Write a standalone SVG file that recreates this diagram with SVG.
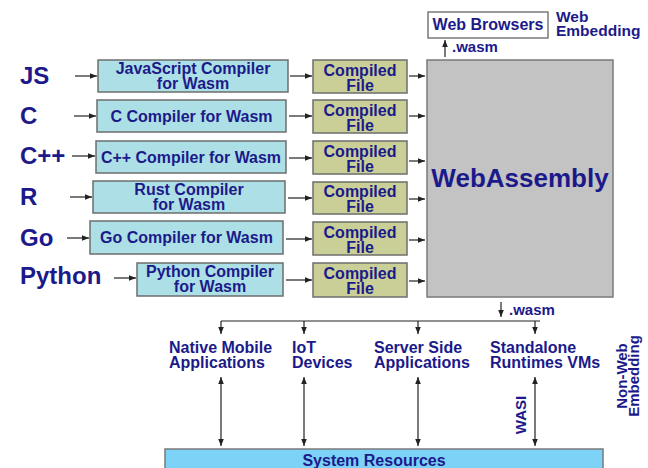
<svg xmlns="http://www.w3.org/2000/svg" width="648" height="468" viewBox="0 0 648 468">
<defs>
<marker id="ah" viewBox="0 0 10 10" refX="10" refY="5" markerWidth="7" markerHeight="7" markerUnits="userSpaceOnUse" orient="auto-start-reverse">
<path d="M0,1 L10,5 L0,9 Z" fill="#222"/>
</marker>
</defs>
<style>
text{font-family:"Liberation Sans",Arial,sans-serif;font-weight:bold;fill:#1c1a8a}
.lang{font-size:24px}
.t16{font-size:16px}
.mid{text-anchor:middle}
.comp{fill:#ace0e6;stroke:#6e6e6e;stroke-width:1.5}
.file{fill:#c9cf96;stroke:#6e6e6e;stroke-width:1.5}
.wa{fill:#c3c3c3;stroke:#7a7a7a;stroke-width:1.5}
.wb{fill:#ffffff;stroke:#7a7a7a;stroke-width:1.5}
.sys{fill:#7dd2f8;stroke:#7a7a7a;stroke-width:1.5}
.c{stroke:#222;stroke-width:1.2;fill:none}
.a{marker-end:url(#ah)}
.d{marker-start:url(#ah);marker-end:url(#ah)}
</style>
<rect width="648" height="468" fill="#ffffff"/>

<g id="lang-js"><text class="lang" x="20" y="84">JS</text></g>
<g id="lang-c"><text class="lang" x="20" y="124">C</text></g>
<g id="lang-cpp"><text class="lang" x="20" y="164">C++</text></g>
<g id="lang-r"><text class="lang" x="20" y="205">R</text></g>
<g id="lang-go"><text class="lang" x="20" y="246">Go</text></g>
<g id="lang-py"><text class="lang" x="20" y="284">Python</text></g>

<g id="comp-js"><rect class="comp" x="98" y="60" width="190" height="32"/><text class="t16 mid" x="193" y="74">JavaScript Compiler</text><text class="t16 mid" x="193" y="89">for Wasm</text></g>
<g id="comp-c"><rect class="comp" x="97" y="100" width="189" height="32"/><text class="t16 mid" x="191.5" y="122">C Compiler for Wasm</text></g>
<g id="comp-cpp"><rect class="comp" x="96" y="141" width="190" height="32"/><text class="t16 mid" x="191" y="163" textLength="180" lengthAdjust="spacingAndGlyphs">C++ Compiler for Wasm</text></g>
<g id="comp-rust"><rect class="comp" x="93" y="181" width="192" height="32"/><text class="t16 mid" x="189" y="195">Rust Compiler</text><text class="t16 mid" x="189" y="210">for Wasm</text></g>
<g id="comp-go"><rect class="comp" x="90" y="221" width="193" height="33"/><text class="t16 mid" x="186.5" y="243">Go Compiler for Wasm</text></g>
<g id="comp-py"><rect class="comp" x="137" y="263" width="146" height="33"/><text class="t16 mid" x="210" y="277">Python Compiler</text><text class="t16 mid" x="210" y="292">for Wasm</text></g>

<g id="file-1"><rect class="file" x="313" y="60" width="94" height="33"/><text class="t16 mid" x="360" y="76">Compiled</text><text class="t16 mid" x="360" y="91">File</text></g>
<g id="file-2"><rect class="file" x="313" y="100" width="94" height="33"/><text class="t16 mid" x="360" y="116">Compiled</text><text class="t16 mid" x="360" y="131">File</text></g>
<g id="file-3"><rect class="file" x="313" y="141" width="94" height="33"/><text class="t16 mid" x="360" y="157">Compiled</text><text class="t16 mid" x="360" y="172">File</text></g>
<g id="file-4"><rect class="file" x="313" y="182" width="94" height="32"/><text class="t16 mid" x="360" y="197">Compiled</text><text class="t16 mid" x="360" y="212">File</text></g>
<g id="file-5"><rect class="file" x="313" y="222" width="94" height="33"/><text class="t16 mid" x="360" y="238">Compiled</text><text class="t16 mid" x="360" y="253">File</text></g>
<g id="file-6"><rect class="file" x="313" y="263" width="94" height="34"/><text class="t16 mid" x="360" y="279">Compiled</text><text class="t16 mid" x="360" y="294">File</text></g>

<g id="webassembly"><rect class="wa" x="427" y="60" width="186" height="237"/><text x="520" y="187" class="mid" font-size="26">WebAssembly</text></g>

<g id="web-browsers"><rect class="wb" x="428" y="12" width="120" height="26"/><text class="t16 mid" x="488" y="30">Web Browsers</text></g>
<g id="web-embedding"><text x="556" y="22" font-size="15.5">Web</text><text x="556" y="36" font-size="15.5">Embedding</text></g>

<g id="app-mobile"><text class="t16" x="169" y="353">Native Mobile</text><text class="t16" x="169" y="368">Applications</text></g>
<g id="app-iot"><text class="t16" x="292" y="353">IoT</text><text class="t16" x="292" y="368">Devices</text></g>
<g id="app-server"><text class="t16" x="374" y="353">Server Side</text><text class="t16" x="374" y="368">Applications</text></g>
<g id="app-standalone"><text class="t16" x="490" y="353">Standalone</text><text class="t16" x="490" y="368">Runtimes VMs</text></g>
<g id="non-web"><text font-size="15" class="mid" transform="translate(627,376) rotate(-90)">Non-Web</text><text font-size="15" class="mid" transform="translate(639,376) rotate(-90)">Embedding</text></g>

<g id="system-resources"><rect class="sys" x="165" y="449" width="438" height="30"/><text class="t16 mid" x="374" y="466">System Resources</text></g>

<g id="connectors">
<line class="c a" x1="75" y1="76" x2="97" y2="76"/>
<line class="c a" x1="74" y1="116" x2="96" y2="116"/>
<line class="c a" x1="72" y1="156" x2="95" y2="156"/>
<line class="c a" x1="70" y1="197" x2="92" y2="197"/>
<line class="c a" x1="67" y1="238" x2="89" y2="238"/>
<line class="c a" x1="114" y1="278" x2="136" y2="278"/>

<line class="c a" x1="290" y1="76" x2="312" y2="76"/>
<line class="c a" x1="289" y1="116" x2="312" y2="116"/>
<line class="c a" x1="289" y1="158" x2="312" y2="158"/>
<line class="c a" x1="288" y1="198" x2="312" y2="198"/>
<line class="c a" x1="286" y1="239" x2="312" y2="239"/>
<line class="c a" x1="286" y1="280" x2="312" y2="280"/>

<line class="c a" x1="409" y1="76" x2="425" y2="76"/>
<line class="c a" x1="409" y1="116" x2="425" y2="116"/>
<line class="c a" x1="409" y1="161" x2="425" y2="161"/>
<line class="c a" x1="409" y1="199" x2="425" y2="199"/>
<line class="c a" x1="409" y1="240" x2="425" y2="240"/>
<line class="c a" x1="409" y1="281" x2="425" y2="281"/>

<line class="c a" x1="445" y1="57" x2="445" y2="40"/>
<text x="452" y="52" font-size="15">.wasm</text>

<line class="c a" x1="501" y1="302" x2="501" y2="317"/>
<text x="509" y="315" font-size="15">.wasm</text>
<line class="c" x1="221" y1="321" x2="540" y2="321"/>
<line class="c a" x1="221" y1="321" x2="221" y2="334"/>
<line class="c a" x1="304" y1="321" x2="304" y2="334"/>
<line class="c a" x1="418" y1="321" x2="418" y2="334"/>
<line class="c a" x1="535" y1="321" x2="535" y2="334"/>

<line class="c d" x1="221" y1="377" x2="221" y2="446"/>
<line class="c d" x1="304" y1="377" x2="304" y2="446"/>
<line class="c d" x1="418" y1="377" x2="418" y2="446"/>
<line class="c d" x1="535" y1="377" x2="535" y2="446"/>
<text font-size="15" class="mid" transform="translate(526,415) rotate(-90)">WASI</text>
</g>
</svg>
